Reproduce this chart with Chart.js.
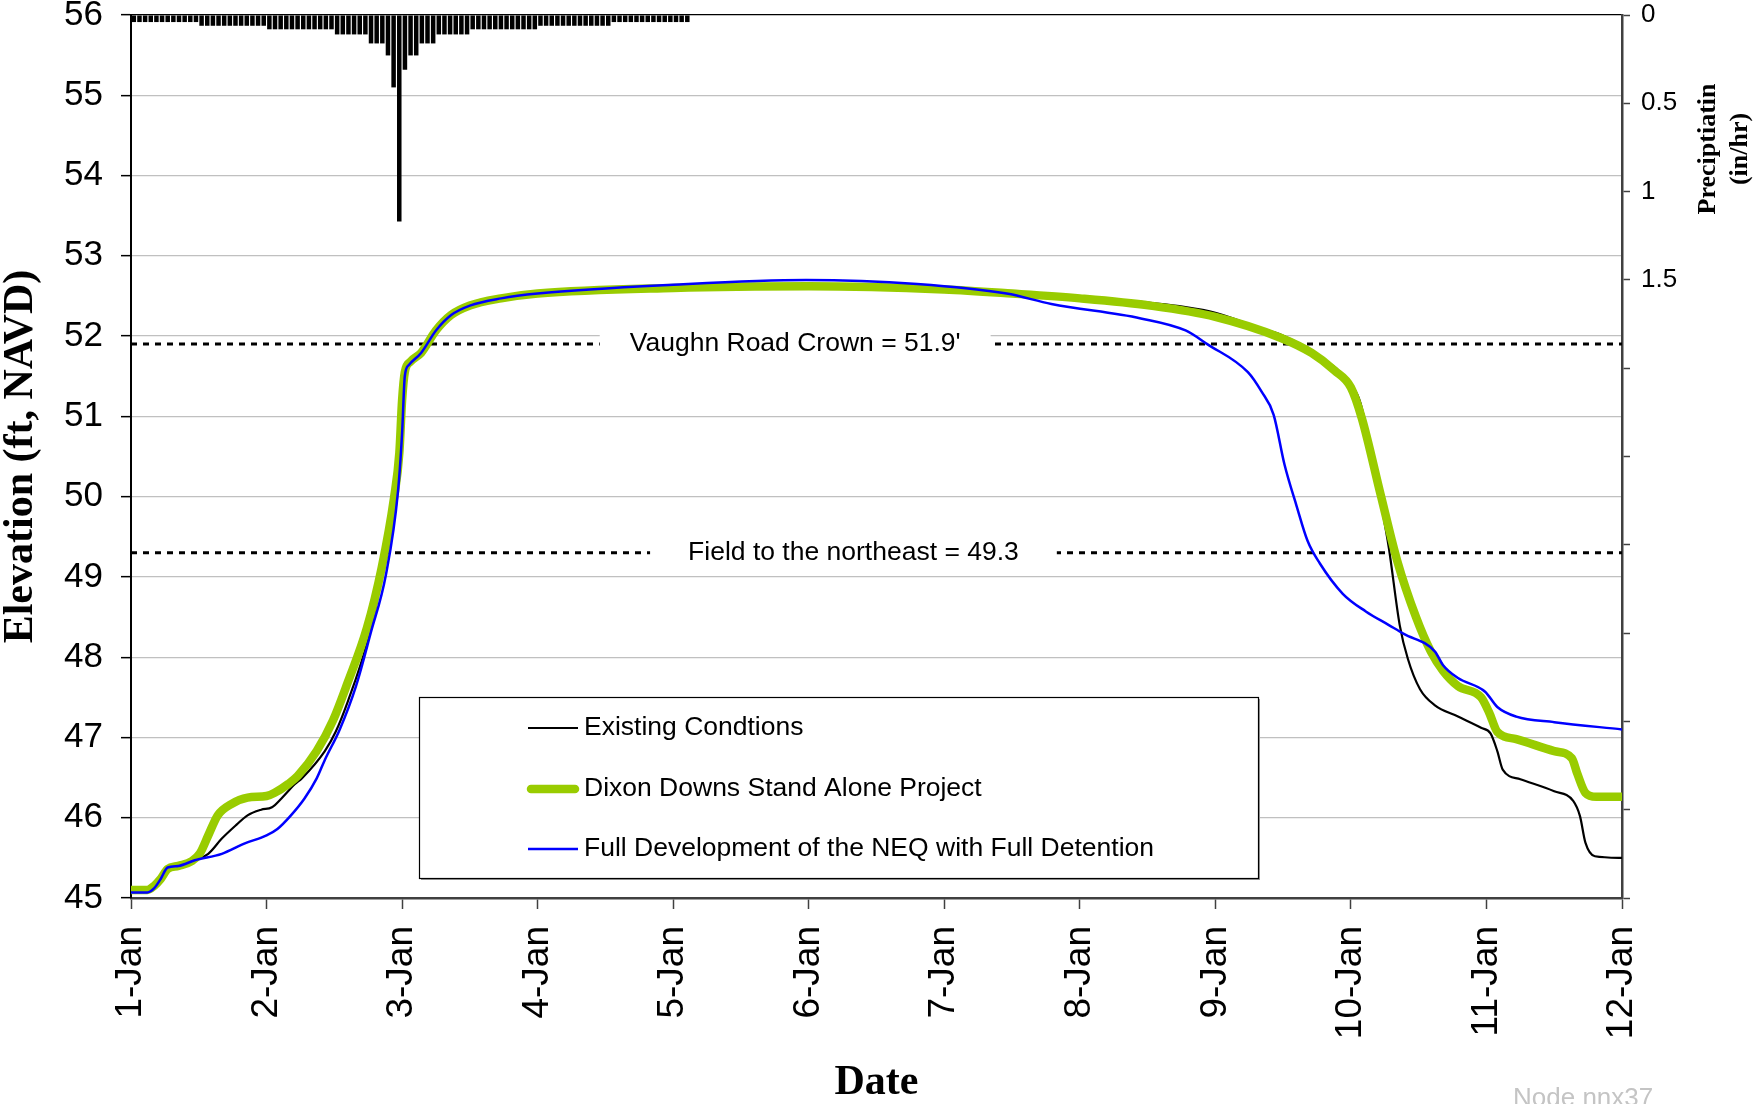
<!DOCTYPE html>
<html>
<head>
<meta charset="utf-8">
<title>Node nnx37 stage</title>
<script src="https://cdn.jsdelivr.net/npm/chart.js@4.4.1/dist/chart.umd.min.js"></script>
<style>
  html, body { margin: 0; padding: 0; background: #fff; }
  #wrap { width: 1754px; height: 1104px; }
</style>
</head>
<body>
<div id="wrap"><canvas id="stageChart" width="1754" height="1104"></canvas></div>
<script>
// x axis tick labels (one per day)
const dateLabels = ["1-Jan", "2-Jan", "3-Jan", "4-Jan", "5-Jan", "6-Jan", "7-Jan", "8-Jan", "9-Jan", "10-Jan", "11-Jan", "12-Jan"];

// Existing Condtions (days after 1-Jan 00:00, elevation ft)
const existingDays = [0, 0.12, 0.17, 0.22, 0.27, 0.35, 0.47, 0.57, 0.67, 0.77, 0.86, 0.96, 1.04, 1.11, 1.21, 1.26, 1.43, 1.51, 1.6, 1.74, 1.85, 1.94, 1.98, 2.0, 2.02, 2.06, 2.14, 2.25, 2.36, 2.5, 2.73, 3.0, 4.0, 5.0, 6.0, 6.5, 7.0, 7.28, 7.78, 8.0, 8.33, 8.48, 8.73, 9.0, 9.07, 9.22, 9.28, 9.36, 9.42, 9.51, 9.62, 9.79, 9.96, 10.03, 10.08, 10.12, 10.25, 10.5, 10.64, 10.69, 10.73, 10.8, 11.0];
const existingElev = [45.08, 45.08, 45.13, 45.24, 45.37, 45.40, 45.47, 45.55, 45.74, 45.90, 46.03, 46.10, 46.13, 46.24, 46.42, 46.49, 46.83, 47.07, 47.45, 48.17, 49.0, 49.9, 50.5, 51.2, 51.55, 51.68, 51.79, 52.07, 52.26, 52.38, 52.47, 52.53, 52.6, 52.62, 52.58, 52.53, 52.48, 52.45, 52.36, 52.29, 52.1, 52.02, 51.79, 51.4, 51.17, 49.93, 49.36, 48.4, 47.98, 47.6, 47.4, 47.26, 47.12, 47.05, 46.83, 46.6, 46.48, 46.33, 46.21, 46.02, 45.69, 45.52, 45.5];

// Dixon Downs Stand Alone Project
const dixonDays = [0, 0.12, 0.17, 0.22, 0.27, 0.35, 0.45, 0.51, 0.57, 0.64, 0.74, 0.86, 1.0, 1.06, 1.16, 1.23, 1.37, 1.49, 1.6, 1.74, 1.85, 1.94, 1.98, 2.0, 2.02, 2.06, 2.14, 2.25, 2.36, 2.5, 2.73, 3.0, 4.0, 5.0, 6.0, 6.5, 7.0, 7.52, 8.0, 8.48, 8.71, 8.88, 9.0, 9.08, 9.22, 9.34, 9.48, 9.59, 9.68, 9.79, 9.96, 10.02, 10.08, 10.22, 10.5, 10.63, 10.67, 10.73, 10.81, 11.0];
const dixonElev = [45.10, 45.10, 45.15, 45.24, 45.36, 45.40, 45.46, 45.56, 45.78, 46.03, 46.17, 46.25, 46.27, 46.31, 46.42, 46.52, 46.83, 47.21, 47.69, 48.36, 49.12, 49.98, 50.55, 51.2, 51.55, 51.68, 51.79, 52.07, 52.26, 52.38, 52.47, 52.53, 52.6, 52.62, 52.58, 52.53, 52.47, 52.38, 52.24, 51.98, 51.79, 51.57, 51.36, 50.98, 50.02, 49.21, 48.5, 48.07, 47.83, 47.64, 47.5, 47.31, 47.07, 46.98, 46.83, 46.74, 46.55, 46.31, 46.26, 46.26];

// Full Development of the NEQ with Full Detention
const fullDevDays = [0, 0.12, 0.17, 0.22, 0.27, 0.35, 0.47, 0.67, 0.84, 1.0, 1.08, 1.18, 1.28, 1.37, 1.43, 1.54, 1.66, 1.77, 1.88, 1.97, 2.0, 2.02, 2.05, 2.14, 2.25, 2.36, 2.5, 2.73, 3.0, 4.0, 4.98, 5.8, 6.46, 6.79, 7.45, 7.78, 7.94, 8.24, 8.34, 8.43, 8.51, 8.6, 8.68, 8.77, 8.94, 9.11, 9.28, 9.39, 9.62, 9.68, 9.79, 9.99, 10.08, 10.22, 10.5, 11.0];
const fullDevElev = [45.07, 45.07, 45.12, 45.24, 45.38, 45.40, 45.47, 45.55, 45.68, 45.78, 45.86, 46.03, 46.24, 46.49, 46.72, 47.1, 47.64, 48.31, 49.02, 50.07, 50.79, 51.5, 51.64, 51.79, 52.07, 52.26, 52.38, 52.47, 52.53, 52.64, 52.70, 52.65, 52.53, 52.40, 52.22, 52.07, 51.90, 51.55, 51.31, 51.02, 50.4, 49.88, 49.45, 49.17, 48.79, 48.57, 48.40, 48.29, 48.07, 47.9, 47.74, 47.57, 47.38, 47.26, 47.19, 47.10];

// hourly precipitation (in/hr), first bar = 1-Jan 00:00-01:00
const rainRate = [
  0.04, 0.04, 0.04, 0.04, 0.04, 0.04, 0.04, 0.04, 0.04, 0.04, 0.04, 0.04,
  0.061, 0.061, 0.061, 0.061, 0.061, 0.061, 0.061, 0.061, 0.061, 0.061, 0.061, 0.061,
  0.081, 0.081, 0.081, 0.081, 0.081, 0.081, 0.081, 0.081, 0.081, 0.081, 0.081, 0.081,
  0.11, 0.11, 0.11, 0.11, 0.11, 0.11,
  0.161, 0.161, 0.161,
  0.229, 0.41, 1.17, 0.31, 0.229, 0.229,
  0.161, 0.161, 0.161,
  0.11, 0.11, 0.11, 0.11, 0.11, 0.11,
  0.081, 0.081, 0.081, 0.081, 0.081, 0.081, 0.081, 0.081, 0.081, 0.081, 0.081, 0.081,
  0.061, 0.061, 0.061, 0.061, 0.061, 0.061, 0.061, 0.061, 0.061, 0.061, 0.061, 0.061, 0.061,
  0.04, 0.04, 0.04, 0.04, 0.04, 0.04, 0.04, 0.04, 0.04, 0.04, 0.04, 0.04, 0.04, 0.04
];

// reference elevations and their labels
const refLevels = [51.9, 49.3];
const refLabels = ["Vaughn Road Crown = 51.9'", "Field to the northeast = 49.3"];
const refLabelDay = [4.9, 5.33];

const legendNames = ["Existing Condtions", "Dixon Downs Stand Alone Project", "Full Development of the NEQ with Full Detention"];
const legendColors = ["#000000", "#99cc00", "#0000ff"];
const legendWidths = [2.2, 8.5, 2.5];

const sansFont = "Arial, 'Liberation Sans', sans-serif";
const serifFont = "'Times New Roman', 'Liberation Serif', serif";

Chart.defaults.font.family = sansFont;
Chart.defaults.color = "#000";

function toPoints(xs, ys) {
    return xs.map((d, i) => ({ x: d, y: ys[i] }));
}

function refLine(level) {
    return {
        data: [{ x: 0, y: level }, { x: 11, y: level }],
        borderColor: "#000",
        borderWidth: 3,
        borderDash: [6, 6],
        pointRadius: 0,
        yAxisID: "y",
        order: 4
    };
}

// labels on the dashed lines, legend box, right axis title, node name
const overlayPlugin = {
    id: "overlay",
    afterDatasetsDraw(chart) {
        let ctx = chart.ctx;
        let xs = chart.scales.x;
        let ys = chart.scales.y;
        ctx.save();
        ctx.font = "26.5px " + sansFont;
        ctx.textBaseline = "middle";
        ctx.textAlign = "center";
        refLevels.forEach((lvl, i) => {
            let cx = xs.getPixelForValue(refLabelDay[i]);
            let cy = ys.getPixelForValue(lvl);
            let w = ctx.measureText(refLabels[i]).width;
            let pad = i === 0 ? 30 : 38;
            ctx.fillStyle = "#fff";
            ctx.fillRect(cx - w / 2 - pad, cy - 20, w + pad * 2, 38);
            ctx.fillStyle = "#000";
            ctx.fillText(refLabels[i], cx, cy);
        });

        // legend
        let bx = 419, by = 697, bw = 839, bh = 181;
        ctx.fillStyle = "#9a9a9a";
        ctx.fillRect(bx + 2, by + 2, bw, bh);
        ctx.fillStyle = "#fff";
        ctx.fillRect(bx, by, bw, bh);
        ctx.strokeStyle = "#000";
        ctx.lineWidth = 1.2;
        ctx.strokeRect(bx + 0.5, by + 0.5, bw, bh);
        ctx.textAlign = "left";
        let rows = [728, 789, 849];
        legendNames.forEach((name, i) => {
            ctx.beginPath();
            ctx.strokeStyle = legendColors[i];
            ctx.lineWidth = legendWidths[i];
            ctx.lineCap = i === 1 ? "round" : "butt";
            ctx.moveTo(i === 1 ? 531 : 528, rows[i]);
            ctx.lineTo(i === 1 ? 575 : 578, rows[i]);
            ctx.stroke();
            ctx.fillStyle = "#000";
            ctx.fillText(name, 584, rows[i]);
        });
        ctx.restore();
    },
    afterDraw(chart) {
        let ctx = chart.ctx;
        ctx.save();
        // right axis title, two lines reading upward
        ctx.translate(1724, 149);
        ctx.rotate(-Math.PI / 2);
        ctx.font = "bold 26px " + serifFont;
        ctx.fillStyle = "#000";
        ctx.textAlign = "center";
        ctx.textBaseline = "middle";
        ctx.fillText("Preciptiatin", 0, -16);
        ctx.fillText("(in/hr)", 0, 16);
        ctx.restore();

        ctx.save();
        ctx.font = "26px " + sansFont;
        ctx.fillStyle = "#c4c4c4";
        ctx.textAlign = "left";
        ctx.textBaseline = "top";
        ctx.fillText("Node nnx37", 1513, 1086);
        ctx.restore();
    }
};

new Chart(document.getElementById("stageChart"), {
    type: "line",
    data: {
        datasets: [
            {
                label: legendNames[2],
                data: toPoints(fullDevDays, fullDevElev),
                borderColor: "#0000ff",
                borderWidth: 2.5,
                pointRadius: 0,
                cubicInterpolationMode: "monotone",
                yAxisID: "y",
                order: 1
            },
            {
                label: legendNames[1],
                data: toPoints(dixonDays, dixonElev),
                borderColor: "#99cc00",
                borderWidth: 8.5,
                borderCapStyle: "round",
                pointRadius: 0,
                cubicInterpolationMode: "monotone",
                yAxisID: "y",
                order: 2
            },
            {
                label: legendNames[0],
                data: toPoints(existingDays, existingElev),
                borderColor: "#000000",
                borderWidth: 2.2,
                pointRadius: 0,
                cubicInterpolationMode: "monotone",
                yAxisID: "y",
                order: 3
            },
            refLine(refLevels[0]),
            refLine(refLevels[1]),
            {
                type: "bar",
                label: "Precipitation",
                data: rainRate.map((v, i) => ({ x: (i + 0.5) / 24, y: v })),
                backgroundColor: "#000",
                barPercentage: 0.8,
                categoryPercentage: 1,
                yAxisID: "y2",
                order: 6
            }
        ]
    },
    options: {
        responsive: false,
        animation: false,
        devicePixelRatio: 1,
        layout: { padding: { top: 15, left: 0, right: 0, bottom: 0 } },
        plugins: {
            legend: { display: false },
            tooltip: { enabled: false }
        },
        scales: {
            x: {
                type: "linear",
                min: 0,
                max: 11,
                offset: false,
                ticks: {
                    stepSize: 1,
                    autoSkip: false,
                    minRotation: 90,
                    maxRotation: 90,
                    padding: 17,
                    color: "#000",
                    font: { size: 37 },
                    callback: v => dateLabels[v]
                },
                grid: { drawOnChartArea: false, offset: false, tickLength: 11, tickColor: "#404040", tickWidth: 1.5 },
                border: { color: "#404040", width: 2.5 },
                title: {
                    display: true,
                    text: "Date",
                    color: "#000",
                    padding: { top: 0, bottom: 0 },
                    font: { family: serifFont, size: 42, weight: "bold", lineHeight: 1.0 }
                },
                afterFit(s) {
                    s.height = 206;
                    s.paddingLeft = 0;
                    s.paddingRight = 0;
                }
            },
            y: {
                position: "left",
                min: 45,
                max: 56,
                ticks: { stepSize: 1, padding: 18, color: "#000", font: { size: 35 } },
                grid: {
                    color: c => (c.tick && c.tick.value === 56 ? "#000" : "#c0c0c0"),
                    lineWidth: 1.3,
                    tickLength: 10,
                    tickColor: "#000",
                    tickWidth: 1.5
                },
                border: { color: "#000", width: 2 },
                title: {
                    display: true,
                    text: "Elevation (ft, NAVD)",
                    color: "#000",
                    padding: { top: 0, bottom: 0 },
                    font: { family: serifFont, size: 42, weight: "bold", lineHeight: 1.0 }
                },
                afterFit(s) {
                    s.width = 131;
                    s.paddingTop = 0;
                    s.paddingBottom = 0;
                }
            },
            y2: {
                position: "right",
                min: 0,
                max: 5,
                reverse: true,
                ticks: {
                    stepSize: 0.5,
                    padding: 11,
                    color: "#000",
                    font: { size: 26 },
                    callback: v => (v <= 1.5 ? String(v) : "")
                },
                grid: { drawOnChartArea: false, tickLength: 8, tickColor: "#404040", tickWidth: 1.5 },
                border: { color: "#404040", width: 2.5 },
                afterFit(s) {
                    s.width = 132;
                    s.paddingTop = 0;
                    s.paddingBottom = 0;
                }
            }
        }
    },
    plugins: [overlayPlugin]
});
</script>
</body>
</html>
